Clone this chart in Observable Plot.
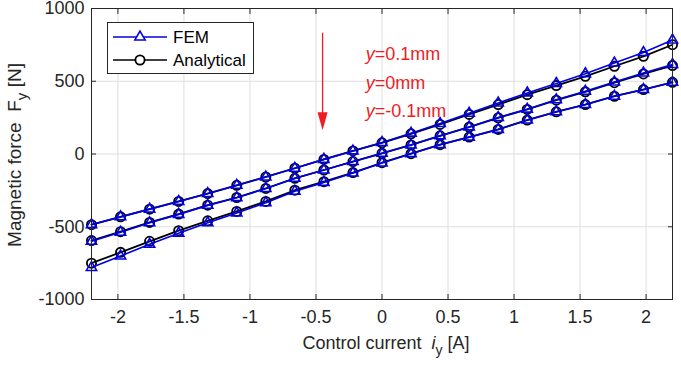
<!DOCTYPE html>
<html><head><meta charset="utf-8">
<script src="https://cdn.jsdelivr.net/npm/d3@7"></script>
<script src="https://cdn.jsdelivr.net/npm/@observablehq/plot@0.6"></script>
<style>body{margin:0;background:#fff} svg{display:block}</style>
</head><body><div id="chart"></div>
<script>
const current = [-2.2,-1.98,-1.76,-1.54,-1.32,-1.1,-0.88,-0.66,-0.44,-0.22,0,0.22,0.44,0.66,0.88,1.1,1.32,1.54,1.76,1.98,2.2];
const anaUp   = [-486,-432,-379,-326,-272,-215,-158,-98,-37,21,77,139,203,272,340,408,470,534,603,671,751];
const femUp   = [-486,-432,-379,-326,-272,-215,-158,-98,-37,21,79,143,209,280,350,420,485,552,625,697,783];
const anaMid  = [-595,-534,-470,-413,-352,-299,-237,-167,-110,-52,5,62,125,185,249,306,370,427,490,550,608];
const femMid  = [-600,-538,-473,-415,-353,-300,-237,-167,-110,-52,5,62,125,186,251,308,373,431,495,556,615];
const anaDown = [-750,-676,-600,-527,-459,-395,-326,-249,-190,-128,-60,2,64,116,169,233,290,340,397,443,493];
const femDown = [-780,-701,-621,-544,-473,-406,-335,-256,-195,-131,-62,2,64,116,169,233,290,340,397,443,493];
const xTicks = [-2,-1.5,-1,-0.5,0,0.5,1,1.5,2];
const yTicks = [-1000,-500,0,500,1000];
const gapLabels = ["0.1mm","0mm","-0.1mm"];
const gapLabelY = [685,486,295];
const gapLabelX = -0.12;
const arrowX = -0.45, arrowFrom = 830, arrowTip = 225;
const legendLabels = ["FEM","Analytical"];

const BLUE = "#0000e6", BLACK = "#000000", RED = "#ee1c25", AX = "#262626";
const rows = [];
[[anaUp,femUp,"0.1"],[anaMid,femMid,"0"],[anaDown,femDown,"-0.1"]].forEach(([a,f,g]) => {
  current.forEach((c,k) => {
    rows.push({i:c, F:a[k], method:"Analytical", gap:g});
    rows.push({i:c, F:f[k], method:"FEM", gap:g});
  });
});
const ana = rows.filter(d => d.method === "Analytical");
const fem = rows.filter(d => d.method === "FEM");

const headSymbol = {draw(ctx){ ctx.moveTo(0,9); ctx.lineTo(-5,-9); ctx.lineTo(5,-9); ctx.closePath(); }};

const fmt = d => String(d);
const plot = Plot.plot({
  width: 681, height: 365,
  marginLeft: 91, marginRight: 9, marginTop: 8, marginBottom: 66,
  style: {fontFamily: "'Liberation Sans', Arial, sans-serif", fontSize: "18px", color: AX, background: "#fff"},
  x: {domain: [-2.2, 2.2], label: null},
  y: {domain: [-1000, 1000], label: null},
  marks: [
    Plot.gridX(xTicks, {stroke: "#dedede", strokeOpacity: 1}),
    Plot.gridY(yTicks, {stroke: "#dedede", strokeOpacity: 1}),
    Plot.axisX(xTicks, {anchor: "bottom", tickSize: 0, tickPadding: 11, tickFormat: fmt, fontSize: 18, fill: AX}),
    Plot.axisY(yTicks, {anchor: "left", tickSize: 0, tickPadding: 7, tickFormat: fmt, fontSize: 18, fill: AX}),
    Plot.axisX(xTicks, {anchor: "bottom", tickSize: -5, tickFormat: () => "", stroke: AX}),
    Plot.axisX(xTicks, {anchor: "top", tickSize: -5, tickFormat: () => "", stroke: AX}),
    Plot.axisY(yTicks, {anchor: "left", tickSize: -5, tickFormat: () => "", stroke: AX}),
    Plot.axisY(yTicks, {anchor: "right", tickSize: -5, tickFormat: () => "", stroke: AX}),
    Plot.ruleX([arrowX], {y1: arrowFrom, y2: arrowTip, stroke: RED, strokeWidth: 1.3}),
    Plot.dot([arrowX], {x: d => d, y: arrowTip, symbol: headSymbol, fill: RED, stroke: "none"}),
    Plot.line(ana, {x: "i", y: "F", z: "gap", stroke: BLACK, strokeWidth: 1.8}),
    Plot.dot(ana, {x: "i", y: "F", symbol: "circle", r: 4.6, stroke: BLACK, fill: "none", strokeWidth: 1.8}),
    Plot.line(fem, {x: "i", y: "F", z: "gap", stroke: BLUE, strokeWidth: 1.6}),
    Plot.dot(fem, {x: "i", y: "F", symbol: "triangle", r: 3.8, stroke: BLUE, fill: "none", strokeWidth: 1.6}),
    Plot.frame({stroke: AX, strokeWidth: 1})
  ]
});
document.getElementById("chart").appendChild(plot);

const svg = d3.select(plot);
const sx = plot.scale("x"), sy = plot.scale("y");
const FONT = "'Liberation Sans', Arial, sans-serif";

// gap annotations
gapLabels.forEach((lab, k) => {
  const t = svg.append("text").attr("x", sx.apply(gapLabelX)).attr("y", sy.apply(gapLabelY[k]))
    .attr("dy", "0.36em").attr("text-anchor", "start").attr("fill", RED).attr("font-family", FONT).attr("font-size", 18);
  t.append("tspan").attr("font-style", "italic").text("y");
  t.append("tspan").text("=" + lab);
});

// legend
const lg = svg.append("g").attr("font-family", FONT).attr("font-size", 17).attr("fill", "#000").attr("text-anchor", "start");
lg.append("rect").attr("x", 107.5).attr("y", 22.5).attr("width", 146).attr("height", 51)
  .attr("fill", "#fff").attr("stroke", AX).attr("stroke-width", 1);
const legendY = [37, 60];
legendLabels.forEach((lab, k) => {
  const col = k === 0 ? BLUE : BLACK;
  const y = legendY[k];
  lg.append("line").attr("x1", 113).attr("x2", 167).attr("y1", y).attr("y2", y).attr("stroke", col).attr("stroke-width", 1.6);
  if (k === 0) {
    lg.append("path").attr("transform", `translate(140,${y})`).attr("d", d3.symbol(d3.symbolTriangle, Math.PI*3.8*3.8)()).attr("fill", "#fff").attr("stroke", col).attr("stroke-width", 1.6);
  } else {
    lg.append("circle").attr("cx", 140).attr("cy", y).attr("r", 4.6).attr("fill", "#fff").attr("stroke", col).attr("stroke-width", 1.8);
  }
  lg.append("text").attr("x", 173).attr("y", y).attr("dy", "0.36em").text(lab);
});

// axis labels
const xl = svg.append("text").attr("x", 386).attr("y", 349).attr("text-anchor", "middle")
  .attr("font-family", FONT).attr("font-size", 18).attr("fill", AX);
xl.append("tspan").text("Control current  ");
xl.append("tspan").attr("font-style", "italic").text("i");
xl.append("tspan").attr("dy", 6).attr("font-size", 14).text("y");
xl.append("tspan").attr("dy", -6).text(" [A]");

const yl = svg.append("text").attr("transform", "translate(21,155) rotate(-90)").attr("text-anchor", "middle")
  .attr("font-family", FONT).attr("font-size", 19).attr("fill", AX);
yl.append("tspan").text("Magnetic force  F");
yl.append("tspan").attr("dy", 6).attr("font-size", 15).text("y");
yl.append("tspan").attr("dy", -6).text(" [N]");
</script>
</body></html>
